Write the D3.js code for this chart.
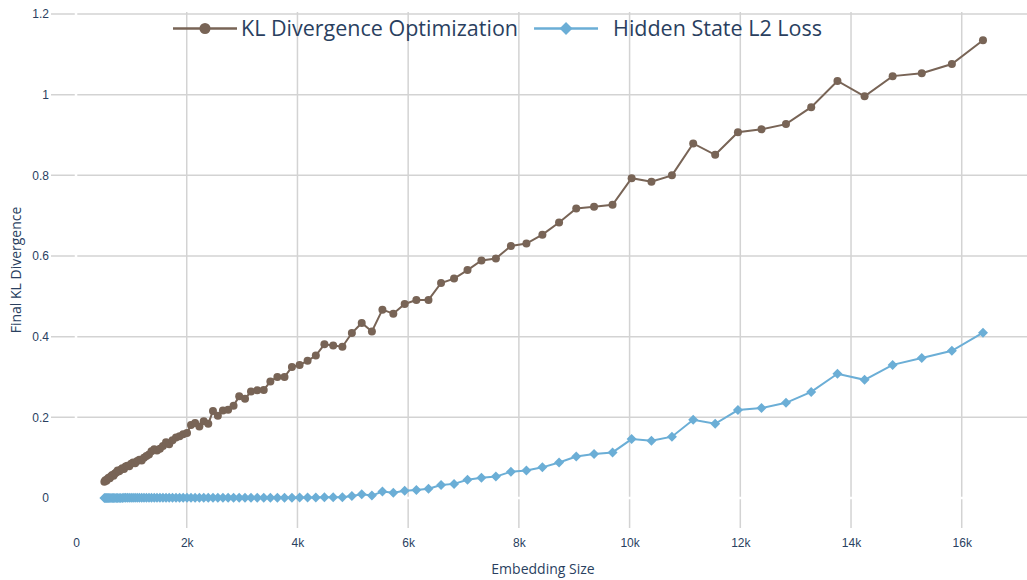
<!DOCTYPE html>
<html>
<head>
<meta charset="utf-8">
<script src="https://cdn.jsdelivr.net/npm/d3@7"></script>
<style>
    html, body { margin: 0; padding: 0; background: #fff; }
    svg { display: block; font-family: "Open Sans", "Noto Sans", sans-serif; }
    .tick-label { fill: #2a3f5f; font-size: 12px; }
    .axis-title { fill: #2a3f5f; font-size: 14px; }
    .legend-text { fill: #2a3f5f; font-size: 21.5px; }
</style>
</head>
<body>
<div id="chart"></div>
<script>
/* ===== DATA ===== */
const embeddingSizes = [
    512, 530, 549, 569, 589, 610, 632, 654, 677, 702,
    727, 752, 779, 807, 836, 866, 896, 928, 961, 996,
    1031, 1068, 1106, 1145, 1186, 1228, 1272, 1318, 1364, 1413,
    1463, 1516, 1570, 1626, 1683, 1743, 1806, 1870, 1936, 2005,
    2077, 2151, 2228, 2307, 2389, 2474, 2562, 2654, 2748, 2846,
    2948, 3053, 3161, 3274, 3391, 3511, 3637, 3766, 3900, 4039,
    4183, 4332, 4487, 4646, 4812, 4983, 5161, 5345, 5535, 5732,
    5937, 6148, 6367, 6594, 6829, 7072, 7324, 7585, 7856, 8136,
    8425, 8726, 9036, 9358, 9692, 10037, 10395, 10765, 11149, 11546,
    11957, 12383, 12825, 13281, 13755, 14245, 14752, 15278, 15822, 16384
];

const klOptimization = [
    0.040, 0.044, 0.043, 0.047, 0.050, 0.049, 0.054, 0.057, 0.055, 0.061,
    0.063, 0.068, 0.066, 0.070, 0.074, 0.072, 0.078, 0.080, 0.079, 0.085,
    0.088, 0.086, 0.092, 0.095, 0.093, 0.100, 0.104, 0.108, 0.116, 0.121,
    0.118, 0.122, 0.129, 0.138, 0.133, 0.143, 0.150, 0.153, 0.158, 0.161,
    0.181, 0.186, 0.177, 0.190, 0.184, 0.216, 0.204, 0.217, 0.219, 0.229,
    0.252, 0.246, 0.264, 0.267, 0.268, 0.289, 0.300, 0.300, 0.325, 0.330,
    0.340, 0.353, 0.381, 0.378, 0.375, 0.409, 0.434, 0.413, 0.467, 0.457,
    0.481, 0.491, 0.491, 0.533, 0.544, 0.565, 0.589, 0.594, 0.625, 0.631,
    0.653, 0.683, 0.718, 0.722, 0.727, 0.793, 0.784, 0.800, 0.879, 0.851,
    0.907, 0.914, 0.927, 0.969, 1.034, 0.996, 1.046, 1.053, 1.076, 1.135
];

const hiddenStateL2 = [
    0.0002, 0.0002, 0.0002, 0.0002, 0.0002, 0.0002, 0.0002, 0.0002, 0.0002, 0.0002,
    0.0002, 0.0002, 0.0002, 0.0002, 0.0002, 0.0003, 0.0003, 0.0003, 0.0003, 0.0003,
    0.0003, 0.0003, 0.0003, 0.0003, 0.0003, 0.0003, 0.0003, 0.0003, 0.0003, 0.0003,
    0.0004, 0.0004, 0.0004, 0.0004, 0.0004, 0.0004, 0.0004, 0.0004, 0.0004, 0.0004,
    0.0004, 0.0004, 0.0005, 0.0005, 0.0005, 0.0005, 0.0005, 0.0005, 0.0006, 0.0006,
    0.0006, 0.0006, 0.0007, 0.0007, 0.0007, 0.0008, 0.0008, 0.0009, 0.0009, 0.0010,
    0.0012, 0.0014, 0.0016, 0.0018, 0.0020, 0.0050, 0.0090, 0.0060, 0.0160, 0.0130,
    0.018, 0.020, 0.023, 0.032, 0.035, 0.045, 0.050, 0.053, 0.065, 0.068,
    0.076, 0.088, 0.103, 0.109, 0.113, 0.146, 0.142, 0.152, 0.194, 0.184,
    0.218, 0.223, 0.236, 0.263, 0.308, 0.293, 0.330, 0.347, 0.365, 0.410
];

const xTicks = [0, 2000, 4000, 6000, 8000, 10000, 12000, 14000, 16000];
const xTickLabels = ["0", "2k", "4k", "6k", "8k", "10k", "12k", "14k", "16k"];
const yTicks = [0, 0.2, 0.4, 0.6, 0.8, 1, 1.2];
const yTickLabels = ["0", "0.2", "0.4", "0.6", "0.8", "1", "1.2"];

const seriesNames = ["KL Divergence Optimization", "Hidden State L2 Loss"];
const seriesColors = ["#786456", "#6baed6"];

/* ===== DIMENSIONS ===== */
const width = 1027;
const height = 580;
const plot = { left: 51, right: 1027, top: 12, bottom: 528 };

const svg = d3.select("#chart")
    .append("svg")
    .attr("width", width)
    .attr("height", height)
    .attr("viewBox", `0 0 ${width} ${height}`);

/* ===== SCALES ===== */
const x = d3.scaleLinear()
    .domain([-452, 17179])
    .range([plot.left, plot.right]);

const y = d3.scaleLinear()
    .domain([-0.0744, 1.205])
    .range([plot.bottom, plot.top]);

/* ===== GRID ===== */
const grid = svg.append("g");

grid.selectAll(".vgrid")
    .data(xTicks.filter((t) => t !== 0))
    .enter()
    .append("line")
    .attr("x1", (d) => x(d))
    .attr("x2", (d) => x(d))
    .attr("y1", plot.top)
    .attr("y2", plot.bottom)
    .attr("stroke", "#d3d3d3")
    .attr("stroke-width", 1.5);

grid.selectAll(".hgrid")
    .data(yTicks.filter((t) => t !== 0))
    .enter()
    .append("line")
    .attr("x1", plot.left)
    .attr("x2", plot.right)
    .attr("y1", (d) => y(d))
    .attr("y2", (d) => y(d))
    .attr("stroke", "#d3d3d3")
    .attr("stroke-width", 1.5);

// zero lines are white, they cut the grid
grid.append("line")
    .attr("x1", x(0)).attr("x2", x(0))
    .attr("y1", plot.top).attr("y2", plot.bottom)
    .attr("stroke", "#fff").attr("stroke-width", 2.5);

grid.append("line")
    .attr("x1", plot.left).attr("x2", plot.right)
    .attr("y1", y(0)).attr("y2", y(0))
    .attr("stroke", "#fff").attr("stroke-width", 2.5);

/* ===== AXES ===== */
const xAxis = svg.append("g")
    .attr("transform", `translate(0,${plot.bottom + 15})`)
    .call(d3.axisBottom(x).tickValues(xTicks).tickSize(0).tickFormat((d, i) => xTickLabels[i]));

const yAxis = svg.append("g")
    .attr("transform", `translate(${plot.left - 2},0)`)
    .call(d3.axisLeft(y).tickValues(yTicks).tickSize(0).tickFormat((d, i) => yTickLabels[i]));

[xAxis, yAxis].forEach((axis) => {
    axis.select(".domain").remove();
    axis.selectAll("text")
        .attr("class", "tick-label")
        .attr("font-family", null)
        .attr("font-size", null)
        .attr("fill", null);
});

xAxis.selectAll("text").attr("dy", "0.35em").attr("y", 0);
yAxis.selectAll("text").attr("x", 0);

svg.append("text")
    .attr("class", "axis-title")
    .attr("x", 543)
    .attr("y", 569)
    .attr("dy", "0.35em")
    .attr("text-anchor", "middle")
    .text("Embedding Size");

svg.append("text")
    .attr("class", "axis-title")
    .attr("transform", `translate(16,${(plot.top + plot.bottom) / 2}) rotate(-90)`)
    .attr("dy", "0.35em")
    .attr("text-anchor", "middle")
    .text("Final KL Divergence");

/* ===== LINES + MARKERS ===== */
const klPoints = embeddingSizes.map((s, i) => ({ x: s, y: klOptimization[i] }));
const l2Points = embeddingSizes.map((s, i) => ({ x: s, y: hiddenStateL2[i] }));

const line = d3.line()
    .x((d) => x(d.x))
    .y((d) => y(d.y));

svg.append("path")
    .datum(klPoints)
    .attr("d", line)
    .attr("fill", "none")
    .attr("stroke", seriesColors[0])
    .attr("stroke-width", 2);

svg.append("g")
    .selectAll("circle")
    .data(klPoints)
    .enter()
    .append("circle")
    .attr("cx", (d) => x(d.x))
    .attr("cy", (d) => y(d.y))
    .attr("r", 4)
    .attr("fill", seriesColors[0]);

svg.append("path")
    .datum(l2Points)
    .attr("d", line)
    .attr("fill", "none")
    .attr("stroke", seriesColors[1])
    .attr("stroke-width", 2);

const diamond = d3.symbol().type(d3.symbolSquare).size(50);

svg.append("g")
    .selectAll("path")
    .data(l2Points)
    .enter()
    .append("path")
    .attr("d", diamond)
    .attr("transform", (d) => `translate(${x(d.x)},${y(d.y)}) rotate(45)`)
    .attr("fill", seriesColors[1]);

/* ===== LEGEND ===== */
const legend = svg.append("g").attr("transform", "translate(173,28.5)");
let offset = 0;

seriesNames.forEach((name, i) => {
    const item = legend.append("g").attr("transform", `translate(${offset},0)`);

    item.append("line")
        .attr("x1", 0).attr("x2", 64)
        .attr("stroke", seriesColors[i])
        .attr("stroke-width", 2.5);

    if (i === 0) {
        item.append("circle").attr("cx", 32).attr("r", 5.5).attr("fill", seriesColors[i]);
    } else {
        item.append("path")
            .attr("d", d3.symbol().type(d3.symbolSquare).size(84)())
            .attr("transform", "translate(32,0) rotate(45)")
            .attr("fill", seriesColors[i]);
    }

    const label = item.append("text")
        .attr("class", "legend-text")
        .attr("x", i === 0 ? 68 : 79)
        .attr("dy", "0.35em")
        .text(name);

    offset += (i === 0 ? 68 : 79) + label.node().getComputedTextLength() + 16;
});
</script>
</body>
</html>
